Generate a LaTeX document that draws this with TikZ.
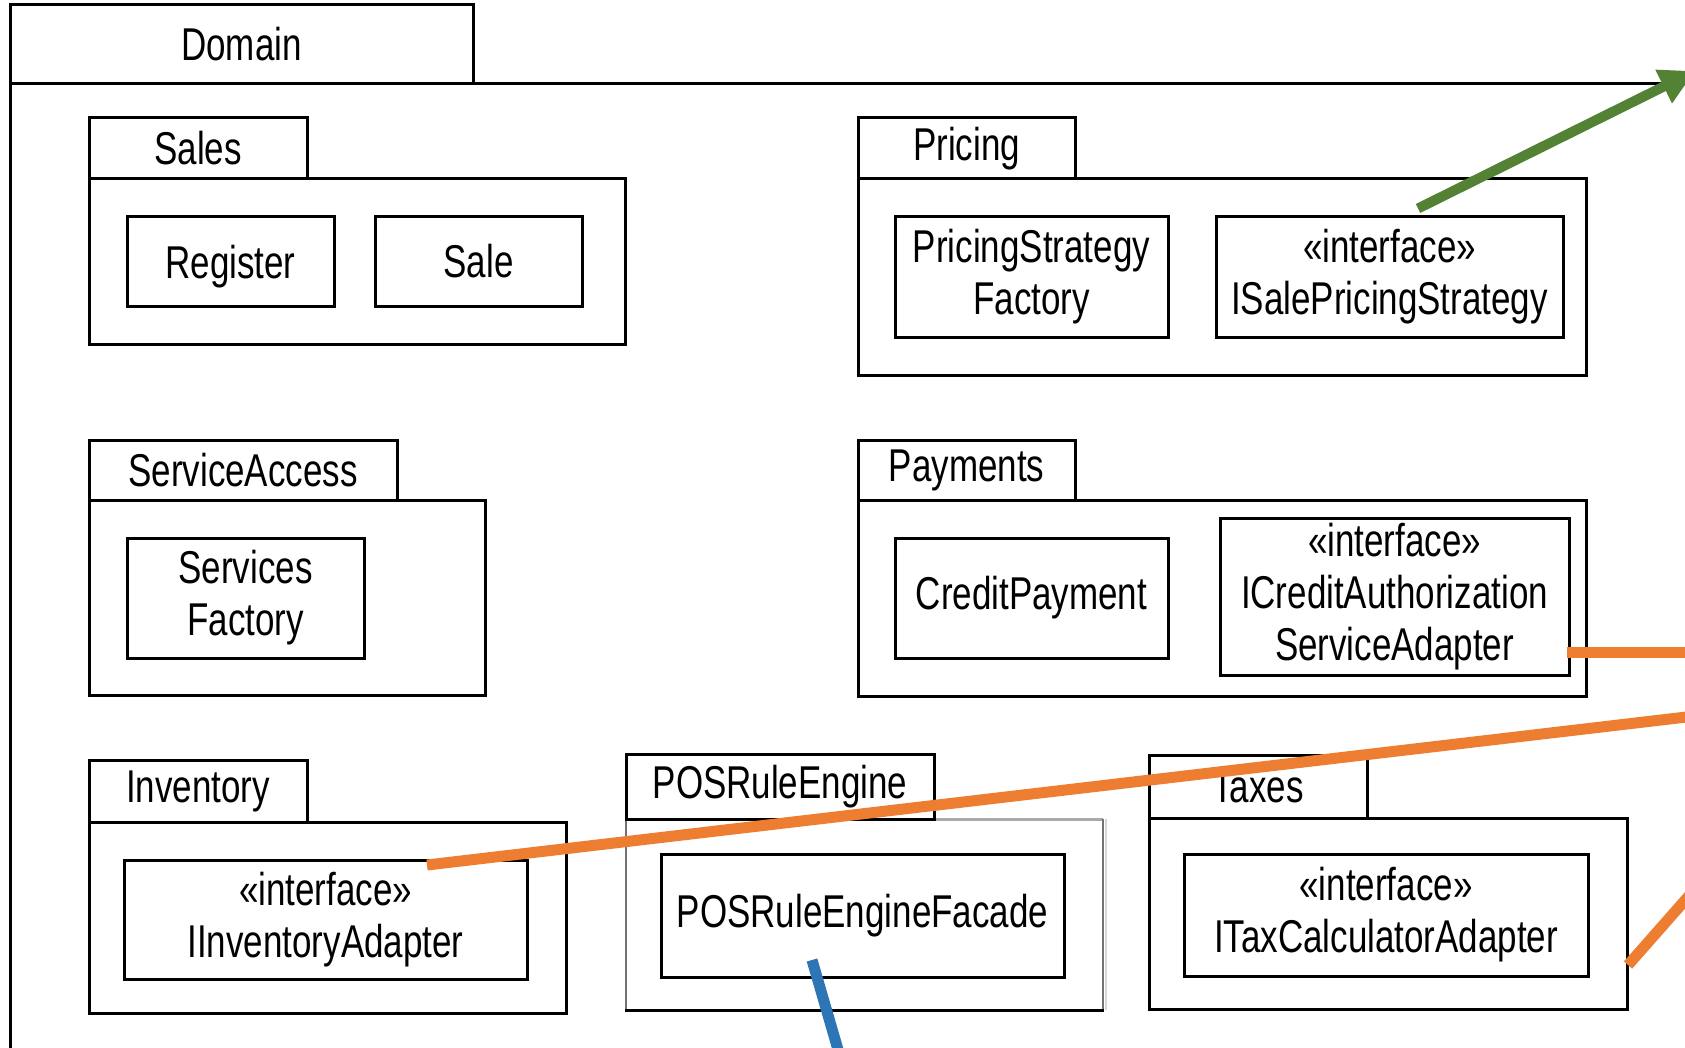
\documentclass[tikz,border=0pt]{standalone}
\usepackage{fontspec}
\setmainfont{Liberation Sans}[FakeStretch=0.76]
\usetikzlibrary{arrows.meta}
\definecolor{depgreen}{RGB}{84,130,53}
\definecolor{deporange}{RGB}{237,125,49}
\definecolor{depblue}{RGB}{46,117,182}
\definecolor{softgray}{RGB}{170,170,170}
\definecolor{midgray}{RGB}{115,115,115}
\definecolor{halogray}{RGB}{215,215,215}

\begin{document}
\begin{tikzpicture}[x=0.5pt,y=-0.5pt,
  every node/.style={inner sep=0pt, outer sep=0pt, align=center,
    font=\fontsize{23pt}{26pt}\selectfont},
  sz/.style 2 args={minimum width={#1*0.5pt}, minimum height={#2*0.5pt}},
  frame/.style={draw=black, line width=1.5pt},
  tab/.style={frame, fill=white},
  pkg/.style={frame},
  cls/.style={frame},
  link/.style={line width=5.5pt},
]
\useasboundingbox (0,0) rectangle (1685,1048);
\fill[white] (0,0) rectangle (1685,1048);

% outer Domain package
\node[tab, sz={463}{79}] (domtab) at (241.5,44.5) {Domain};
\draw[frame] (domtab.south west |- 0,1060) -- (domtab.south west) -- (domtab.south west -| 1700,0);

% package bodies
\node[pkg, sz={536}{165}] (salesbody) at (357,261.5) {};
\node[pkg, sz={728}{196}] (pricingbody) at (1222,277) {};
\node[pkg, sz={396}{195}] (accessbody) at (287,597.5) {};
\node[pkg, sz={728}{196}] (paybody) at (1222,598) {};
\node[pkg, sz={477}{191}] (invbody) at (327.5,917.5) {};
\node[sz={477}{191}] (rulebody) at (864.5,914.5) {};
\draw[halogray, line width=1pt] ([xshift=1.5pt]rulebody.north east) -- ([xshift=1.5pt]rulebody.south east);
\draw[softgray, line width=1.5pt] (rulebody.north west) -- (rulebody.north east);
\draw[midgray, line width=1pt] (rulebody.north east) -- (rulebody.south east);
\draw[midgray, line width=1pt] (rulebody.north west) -- (rulebody.south west);
\draw[black, line width=1.5pt] ([xshift=-0.5pt]rulebody.south west) -- ([xshift=0.5pt]rulebody.south east);
\node[pkg, sz={478}{191}] (taxbody) at (1388,913.5) {};

% package tabs
\node[tab, sz={218}{61}] (salestab) at (198,148.5) {Sales};
\node[tab, sz={217}{61}] (pricingtab) at (966.5,148.5) {Pricing};
\node[tab, sz={308}{60}] (accesstab) at (243,470) {ServiceAccess};
\node[tab, sz={217}{60}] (paytab) at (966.5,470) {Payments};
\node[tab, sz={218}{62}] (invtab) at (198,791) {Inventory};
\node[tab, sz={308}{65}] (ruletab) at (780,786.5) {POSRuleEngine};
\node[tab, sz={218}{63}] (taxtab) at (1258,786.5) {Taxes};

% classes
\node[cls, sz={207}{89}, text depth=0pt] (register) at (230.5,261.5) {Register};
\node[cls, sz={207}{89}] (sale) at (478.5,261.5) {Sale};
\node[cls, sz={273}{120}] (psfactory) at (1031.5,277) {PricingStrategy\\Factory};
\node[cls, sz={347}{120}] (isps) at (1389.5,277) {«interface»\\ISalePricingStrategy};
\node[cls, sz={237}{120}] (svcfactory) at (245.5,598) {Services\\Factory};
\node[cls, sz={273}{120}] (creditpay) at (1031.5,598) {CreditPayment};
\node[cls, sz={349}{157}] (icasa) at (1394.5,596.5) {«interface»\\ICreditAuthorization\\ServiceAdapter};
\node[cls, sz={403}{119}] (iinv) at (325.5,919.5) {«interface»\\IInventoryAdapter};
\node[cls, sz={403}{123}] (facade) at (862.5,915.5) {POSRuleEngineFacade};
\node[cls, sz={404}{122}] (itca) at (1386,915) {«interface»\\ITaxCalculatorAdapter};

% connectors leaving the picture
\coordinate (greenstart) at (1418,208.5);
\coordinate (greenend) at (1695,71);
\coordinate (credstart) at (1567,652);
\coordinate (credend) at (1695,652);
\coordinate (invstart) at (427,865);
\coordinate (invend) at (1695,716);
\coordinate (taxstart) at (1628,965);
\coordinate (taxend) at (1695,889);
\coordinate (facstart) at (812,960);
\coordinate (facend) at (841,1060);

\begin{scope}
\clip (0,0) rectangle (1685,1048);
\draw[depgreen, line width=5pt, -{Triangle[width=17.5pt,length=17.5pt]}] (greenstart) -- (greenend);
\draw[deporange, link] (credstart) -- (credend);
\draw[deporange, link] (invstart) -- (invend);
\draw[deporange, link] (taxstart) -- (taxend);
\draw[depblue, link] (facstart) -- (facend);
\end{scope}
\end{tikzpicture}
\end{document}
